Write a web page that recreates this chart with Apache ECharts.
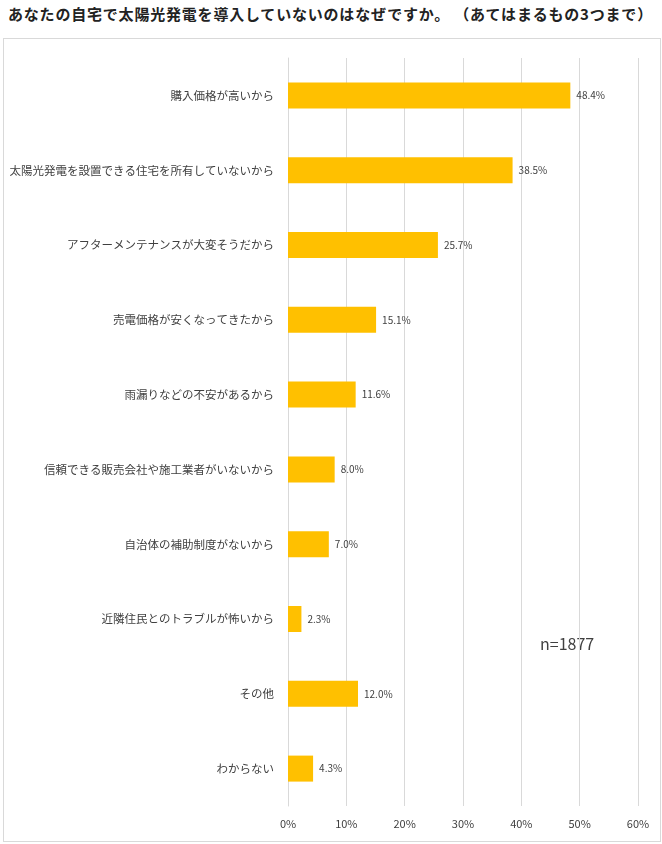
<!DOCTYPE html>
<html>
<head>
<meta charset="utf-8">
<script src="https://cdn.jsdelivr.net/npm/echarts@6/dist/echarts.min.js"></script>
<style>
  body { margin: 0; background: #fff; }
  #title { position: absolute; left: 8px; top: 3px; font: bold 15px "Noto Sans CJK JP", sans-serif; letter-spacing: 0.8px; color: #222; white-space: nowrap; }
  #box { position: absolute; left: 3px; top: 38px; width: 656px; height: 802px; border: 1px solid #d9d9d9; }
  #chart { width: 662px; height: 844px; }
</style>
</head>
<body>
<div id="title">あなたの自宅で太陽光発電を導入していないのはなぜですか。 （あてはまるもの3つまで）</div>
<div id="box"></div>
<div id="chart"></div>
<script>
const categories = [
    '購入価格が高いから',
    '太陽光発電を設置できる住宅を所有していないから',
    'アフターメンテナンスが大変そうだから',
    '売電価格が安くなってきたから',
    '雨漏りなどの不安があるから',
    '信頼できる販売会社や施工業者がいないから',
    '自治体の補助制度がないから',
    '近隣住民とのトラブルが怖いから',
    'その他',
    'わからない'
];
const values = [48.4, 38.5, 25.7, 15.1, 11.6, 8.0, 7.0, 2.3, 12.0, 4.3];

const chart = echarts.init(document.getElementById('chart'));
chart.setOption({
    animation: false,
    textStyle: { fontFamily: '"Noto Sans CJK JP", sans-serif' },
    graphic: [{
        type: 'text', left: 540, top: 636,
        style: { text: 'n=1877', fontSize: 16, fill: '#404040', fontFamily: '"Noto Sans CJK JP", sans-serif' }
    }],
    grid: { left: 288, right: 24, top: 58, bottom: 38 },
    xAxis: {
        type: 'value', min: 0, max: 60, interval: 10,
        axisLabel: { formatter: '{value}%', color: '#404040', fontSize: 11, margin: 12 },
        splitLine: { lineStyle: { color: '#d9d9d9' } },
        axisLine: { show: false }, axisTick: { show: false }
    },
    yAxis: {
        type: 'category', data: categories, inverse: true,
        axisLabel: { color: '#404040', fontSize: 11.5, margin: 14 },
        axisLine: { lineStyle: { color: '#d9d9d9' } },
        axisTick: { show: false }
    },
    series: [{
        type: 'bar', data: values, barWidth: 26,
        itemStyle: { color: '#FFC000' },
        label: { show: true, position: 'right', formatter: p => p.value.toFixed(1) + '%', color: '#404040', fontSize: 10, distance: 6 }
    }]
});
</script>
</body>
</html>
